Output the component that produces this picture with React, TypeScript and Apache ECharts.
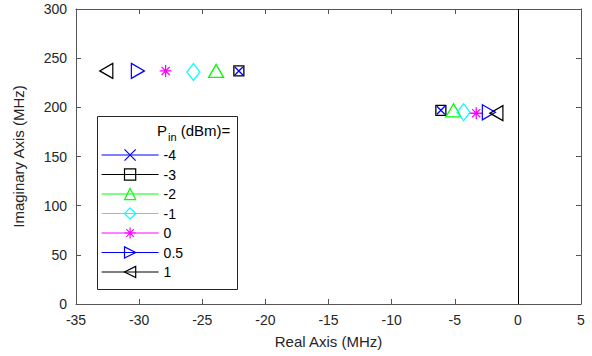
import React, { useEffect, useRef } from 'react';
import * as echarts from 'echarts';

// Input power levels (legend categories)
const powerLevels = ['-4', '-3', '-2', '-1', '0', '0.5', '1'];
// Pole pair positions (MHz): one far pole (A), one near pole (B) per power level
const poleRealA = [-22.1, -22.1, -23.9, -25.7, -27.9, -30.1, -32.6];
const poleImagA = [237, 237, 237, 236, 237, 237, 237];
const poleRealB = [-6.1, -6.1, -5.1, -4.3, -3.3, -2.3, -1.7];
const poleImagB = [197, 197, 197, 195, 194, 195, 194];

const xTicks = { min: -35, max: 5, step: 5 };
const yTicks = { min: 0, max: 300, step: 50 };

const seriesColors = ['#0000FF', '#000000', '#00FF00', '#00FFFF', '#FF00FF', '#0000FF', '#000000'];
const markerShapes = [
  'path://M0,0 L10,10 M10,0 L0,10',
  'rect',
  'triangle',
  'diamond',
  'path://M5,0 L5,10 M0,5 L10,5 M1.6,1.6 L8.4,8.4 M8.4,1.6 L1.6,8.4',
  'path://M0,0 L10,5 L0,10 Z',
  'path://M10,0 L0,5 L10,10 Z',
];
const markerSizes: any[] = [[8, 8], [10, 10], [15, 13], [13, 17], [12, 12], [13, 15], [13, 15]];

const FONT = '"Liberation Sans", Arial, Helvetica, sans-serif';
const AXIS_COLOR = '#555555';
const TEXT_COLOR = '#262626';

export default function App() {
  const ref = useRef<HTMLDivElement>(null);
  useEffect(() => {
    document.body.style.margin = '0';
    const chart = echarts.init(ref.current!, undefined, { renderer: 'svg' });

    const series: any[] = powerLevels.map((lvl, i) => {
      const s: any = {
        name: lvl,
        type: 'line',
        data: [
          [poleRealA[i], poleImagA[i]],
          [poleRealB[i], poleImagB[i]],
        ],
        symbol: markerShapes[i],
        symbolSize: markerSizes[i],
        showSymbol: true,
        showAllSymbol: true,
        lineStyle: { width: 0, color: seriesColors[i] },
        itemStyle: { color: 'rgba(0,0,0,0)', borderColor: seriesColors[i], borderWidth: 1.3 },
        emphasis: { disabled: true },
        z: 4,
      };
      if (i === 0) {
        s.markLine = {
          silent: true,
          symbol: ['none', 'none'],
          label: { show: false },
          lineStyle: { color: '#000000', width: 1, type: 'solid' },
          data: [{ xAxis: 0 }],
          z: 1,
        };
      }
      return s;
    });

    const axisCommon = {
      axisLine: { show: true, onZero: false, lineStyle: { color: AXIS_COLOR, width: 1 } },
      axisTick: { show: true, inside: true, length: 5, lineStyle: { color: AXIS_COLOR, width: 1 } },
      splitLine: { show: false },
    };

    const option: any = {
      animation: false,
      grid: { left: 76, right: 11, top: 9, bottom: 52, containLabel: false },
      xAxis: [
        {
          type: 'value',
          position: 'bottom',
          min: xTicks.min,
          max: xTicks.max,
          interval: xTicks.step,
          name: 'Real Axis (MHz)',
          nameLocation: 'middle',
          nameGap: 30,
          nameTextStyle: { fontFamily: FONT, fontSize: 15, color: TEXT_COLOR },
          axisLabel: { fontFamily: FONT, fontSize: 14, color: TEXT_COLOR, margin: 9 },
          ...axisCommon,
        },
        {
          type: 'value',
          position: 'top',
          min: xTicks.min,
          max: xTicks.max,
          interval: xTicks.step,
          axisLabel: { show: false },
          ...axisCommon,
        },
      ],
      yAxis: [
        {
          type: 'value',
          position: 'left',
          min: yTicks.min,
          max: yTicks.max,
          interval: yTicks.step,
          name: 'Imaginary Axis (MHz)',
          nameLocation: 'middle',
          nameGap: 50,
          nameTextStyle: { fontFamily: FONT, fontSize: 15, color: TEXT_COLOR },
          axisLabel: { fontFamily: FONT, fontSize: 14, color: TEXT_COLOR, margin: 9 },
          ...axisCommon,
        },
        {
          type: 'value',
          position: 'right',
          min: yTicks.min,
          max: yTicks.max,
          interval: yTicks.step,
          axisLabel: { show: false },
          ...axisCommon,
        },
      ],
      legend: {
        orient: 'vertical',
        left: 101,
        top: 147,
        padding: 0,
        itemGap: 3.5,
        itemWidth: 57,
        itemHeight: 14,
        selectedMode: false,
        data: powerLevels,
        textStyle: { fontFamily: FONT, fontSize: 14, color: '#000', lineHeight: 16 },
        lineStyle: { width: 1.2 },
        itemStyle: { borderWidth: 1.2 },
        z: 6,
      },
      graphic: [
        {
          type: 'rect',
          z: 5,
          shape: { x: 97.5, y: 116.5, width: 140, height: 173 },
          style: { fill: '#ffffff', stroke: '#262626', lineWidth: 1 },
        },
        {
          type: 'text',
          z: 7,
          x: 157,
          y: 119,
          style: {
            text: '{a|P}{b|in}{a| (dBm)=}',
            fill: '#000',
            rich: {
              a: { fontFamily: FONT, fontSize: 15, fill: '#000' },
              b: { fontFamily: FONT, fontSize: 11, fill: '#000', padding: [12, 0, 0, 1] },
            },
          },
        },
      ],
      series,
    };
    chart.setOption(option);
    return () => chart.dispose();
  }, []);

  return (
    <div
      ref={ref}
      style={{ position: 'fixed', left: 0, top: 0, width: 592, height: 356, background: '#fff' }}
    />
  );
}
